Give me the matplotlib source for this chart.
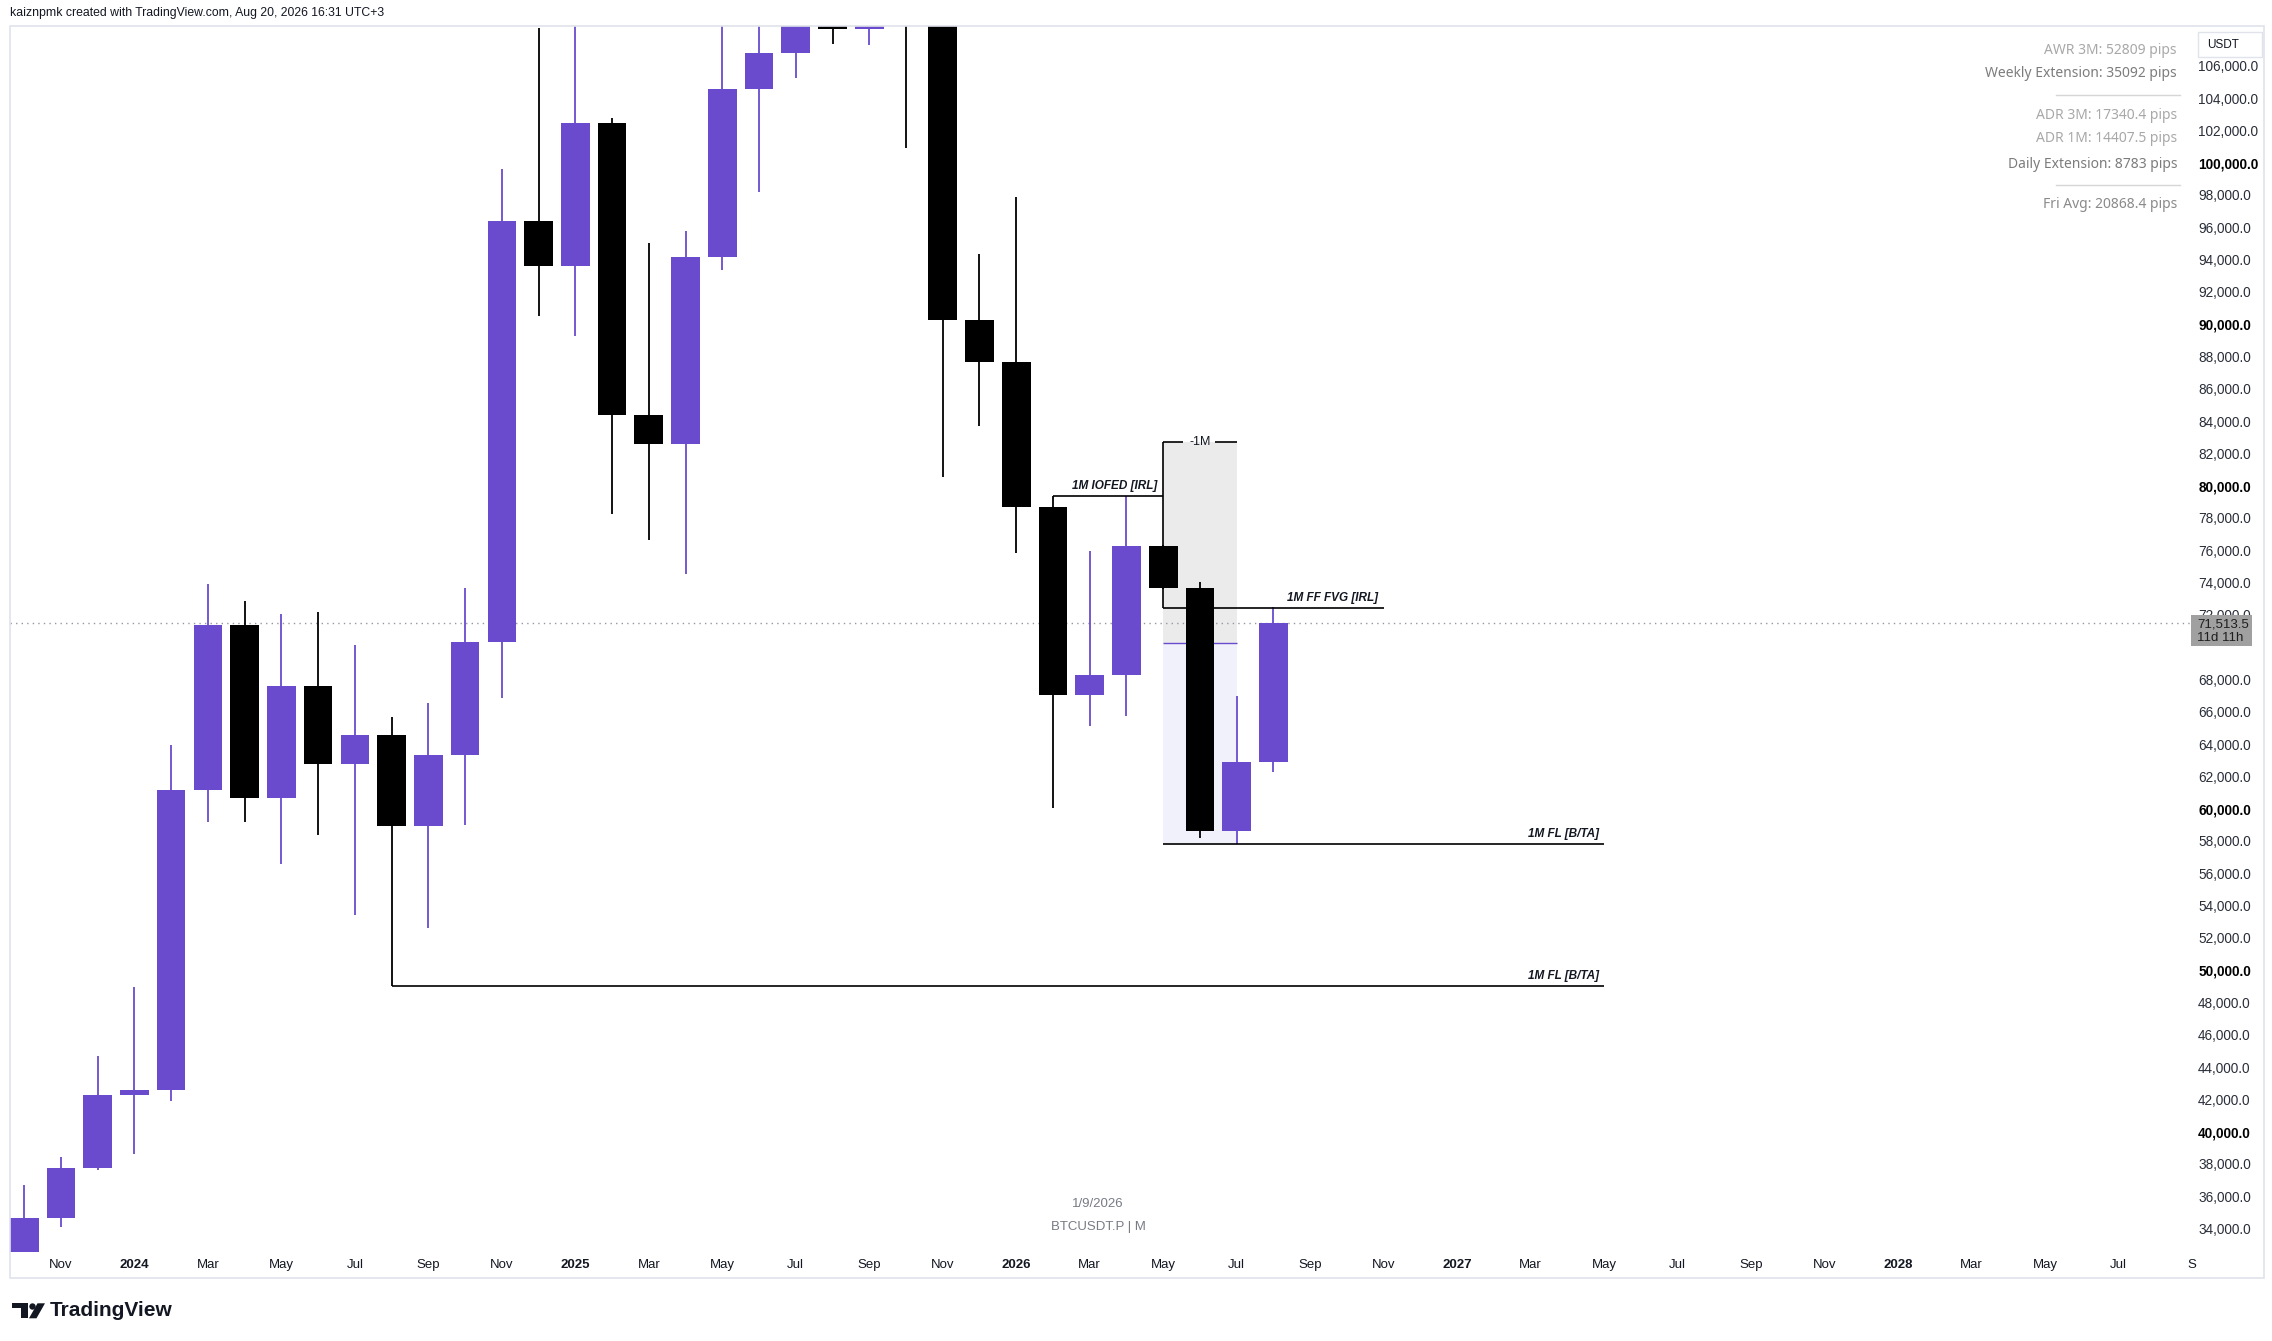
import matplotlib.pyplot as plt
from matplotlib.patches import Rectangle, Polygon, Circle
from matplotlib.transforms import blended_transform_factory

plt.rcParams['font.family'] = ['Liberation Sans', 'DejaVu Sans']

W, H = 2272, 1341  # output size in pixels

# monthly BTCUSDT.P candles, Oct 2023 .. Aug 2026
opens = [26970, 34650, 37720, 42300, 42580, 61150, 71370, 60680, 67590, 62780,
         64580, 58940, 63320, 70300, 96400, 93580, 102430, 84350, 82550, 94170,
         104590, 106800, 115760, 108250, 114050, 109610, 90260, 87650, 78660, 67010,
         68260, 76260, 73640, 58630, 62890]
highs = [36710, 38450, 44700, 48970, 63970, 73900, 72860, 72050, 72180, 70130,
         65690, 66540, 73660, 99590, 108350, 109590, 102750, 95000, 95760, 111980,
         110530, 123220, 124470, 117900, 126200, 110600, 94370, 97870, 79340, 75980,
         79340, 76300, 74020, 66980, 72470]
lows = [26520, 34090, 37600, 38600, 41880, 59190, 59190, 56590, 58370, 53440,
        49000, 52630, 58990, 66870, 90500, 89250, 78260, 76610, 74510, 93380,
        98200, 105270, 107350, 107260, 100900, 80550, 83690, 75800, 60010, 65120,
        65750, 73600, 58160, 57810, 62290]
closes = [34650, 37720, 42300, 42580, 61150, 71370, 60680, 67590, 62780, 64580,
          58940, 63320, 70300, 96400, 93580, 102430, 84350, 82550, 94170, 104590,
          106800, 115760, 108250, 114050, 109610, 90260, 87650, 78660, 67010, 68260,
          76260, 73640, 58630, 62890, 71513.5]

tick_pos = list(range(1, 60, 2))
tick_labels = ["Nov", "2024", "Mar", "May", "Jul", "Sep", "Nov", "2025", "Mar", "May",
               "Jul", "Sep", "Nov", "2026", "Mar", "May", "Jul", "Sep", "Nov", "2027",
               "Mar", "May", "Jul", "Sep", "Nov", "2028", "Mar", "May", "Jul", "S"]
year_labels = ["2024", "2025", "2026", "2027", "2028"]
# 70,000 sits under the last-price label, so it is left out
price_ticks = [p for p in range(34000, 106001, 2000) if p != 70000]
bold_prices = [40000, 50000, 60000, 80000, 90000, 100000]
last_price = 71513.5
countdown = "11d 11h"

# drawn levels (price, from month, to month)
iofed = (79340, 28, 31)
ff_fvg = (72400, 31, 37)
range_top = (82720, 31, 33)
range_mid = 70280
fl_recent = (57810, 31, 43)
fl_old = (49000, 10, 43)

info_lines = ["AWR 3M: 52809 pips", "Weekly Extension: 35092 pips", "ADR 3M: 17340.4 pips",
              "ADR 1M: 14407.5 pips", "Daily Extension: 8783 pips", "Fri Avg: 20868.4 pips"]
info_colors = ["#a8a8a8", "#7c7c7c", "#a8a8a8", "#a8a8a8", "#7c7c7c", "#8a8a8a"]
info_y = [50, 73, 115, 138, 164, 204]

PURPLE = "#6a4bcd"
BLACK = "#000000"
TXT = "#131722"

fig = plt.figure(figsize=(W / 100, H / 100), dpi=100)
fig.patch.set_facecolor("white")

# main chart area
ax = fig.add_axes([10 / W, 1 - 1252 / H, 2182 / W, 1226 / H])
ax.set_xlim(-0.386, 58.96)
ax.set_ylim(32548, 108460)
for s in ax.spines.values():
    s.set_visible(False)

# candles
idx = list(range(len(opens)))
cols = [PURPLE if c >= o else BLACK for o, c in zip(opens, closes)]
ax.vlines(idx, lows, highs, colors=cols, lw=1.3, zorder=3)
ax.bar(idx, [abs(c - o) for o, c in zip(opens, closes)],
       bottom=[min(o, c) for o, c in zip(opens, closes)],
       width=0.78, color=cols, linewidth=0, zorder=4)

# last price dotted line
ax.axhline(last_price, color="#9598a1", lw=1, ls=(0, (1, 3)), zorder=2)

# -1M range box
x0, x1 = range_top[1], range_top[2]
ax.add_patch(Rectangle((x0, range_mid), x1 - x0, range_top[0] - range_mid,
                       facecolor="#ebebeb", edgecolor="none", zorder=1))
ax.add_patch(Rectangle((x0, fl_recent[0]), x1 - x0, range_mid - fl_recent[0],
                       facecolor="#f1f1fb", edgecolor="none", zorder=1))
ax.hlines(range_mid, x0, x1, colors=PURPLE, lw=1, zorder=1.5)
ax.hlines(range_top[0], x0, 31.55, colors=BLACK, lw=1.2, zorder=5)
ax.hlines(range_top[0], 32.4, x1, colors=BLACK, lw=1.2, zorder=5)
ax.text(32, range_top[0], "-1M", ha="center", va="center", fontsize=9, color=TXT, zorder=6)
ax.vlines(x0, ff_fvg[0], range_top[0], colors=BLACK, lw=1.2, zorder=2.5)

# level lines with labels
lvl_font = dict(fontsize=8.5, fontweight="bold", fontstyle="italic", color=TXT)
for (lvl, a, b), label in [(iofed, "1M IOFED [IRL]"), (ff_fvg, "1M FF FVG [IRL]"),
                           (fl_recent, "1M FL [B/TA]"), (fl_old, "1M FL [B/TA]")]:
    ax.hlines(lvl, a, b, colors=BLACK, lw=1.2, zorder=5)
    ax.annotate(label, xy=(b, lvl), xytext=(-4, 3), textcoords="offset points",
                ha="right", va="bottom", zorder=6, **lvl_font)

# axes ticks
ax.set_xticks(tick_pos, tick_labels)
ax.tick_params(axis="x", length=0, pad=5, labelsize=9.5, labelcolor=TXT)
for t in ax.get_xticklabels():
    if t.get_text() in year_labels:
        t.set_fontweight("bold")
ax.yaxis.tick_right()
ax.set_yticks(price_ticks, [f"{p:,.1f}" for p in price_ticks])
ax.tick_params(axis="y", length=0, pad=4.5, labelsize=9.8, labelcolor="#2a2e39")
for t, p in zip(ax.get_yticklabels(), price_ticks):
    if p in bold_prices:
        t.set_fontweight("bold")
        t.set_color(BLACK)

# last price label on the scale
bt = blended_transform_factory(ax.transAxes, ax.transData)
ax.add_patch(Rectangle((0.9995, 70070), 0.028, 1920, transform=bt, facecolor="#a0a0a0",
                       edgecolor="none", clip_on=False, zorder=7))
ax.text(1.0025, 71430, f"{last_price:,.1f}", transform=bt, ha="left", va="center",
        fontsize=9.5, color="#1e1e1e", clip_on=False, zorder=8)
ax.text(1.0025, 70560, countdown, transform=bt, ha="left", va="center",
        fontsize=9.5, color="#1e1e1e", clip_on=False, zorder=8)

# overlay in pixel coordinates for the frame and texts
ov = fig.add_axes([0, 0, 1, 1], zorder=10)
ov.set_xlim(0, W)
ov.set_ylim(H, 0)
ov.axis("off")
ov.patch.set_alpha(0)

ov.add_patch(Rectangle((10, 26), 2254, 1252, facecolor="none", edgecolor="#e0e3eb", lw=1.2))
ov.text(10, 13, "kaiznpmk created with TradingView.com, Aug 20, 2026 16:31 UTC+3",
        ha="left", va="center", fontsize=8.8, color=TXT)

for txt, c, y in zip(info_lines, info_colors, info_y):
    ov.text(2177, y, txt, ha="right", va="center", fontsize=10, color=c, family="Noto Sans")
ov.plot([2056, 2180], [94.5, 94.5], color="#d6d6d6", lw=1)
ov.plot([2056, 2180], [184.5, 184.5], color="#d6d6d6", lw=1)

ov.add_patch(Rectangle((2198, 32), 64, 25, facecolor="white", edgecolor="#e0e3eb", lw=1))
ov.text(2207, 44.5, "USDT", ha="left", va="center", fontsize=8.5, color=TXT)

ov.text(1098, 1204, "1/9/2026", ha="center", va="center", fontsize=9.5, color="#787b86")
ov.text(1098, 1227, "BTCUSDT.P | M", ha="center", va="center", fontsize=9.5, color="#787b86")

# TradingView footer logo
ov.add_patch(Rectangle((11.7, 1303.3), 16.6, 5, facecolor=TXT, edgecolor="none"))
ov.add_patch(Rectangle((20.7, 1303.3), 7.6, 15, facecolor=TXT, edgecolor="none"))
ov.add_patch(Circle((32.5, 1306.5), 3.2, facecolor=TXT, edgecolor="none"))
ov.add_patch(Polygon([(29, 1318.3), (36.5, 1318.3), (45, 1303.3), (37.5, 1303.3)],
                     closed=True, facecolor=TXT, edgecolor="none"))
ov.text(50, 1311, "TradingView", ha="left", va="center", fontsize=15, fontweight="bold", color=TXT)

fig.savefig("out.png", dpi=100, facecolor="white")
